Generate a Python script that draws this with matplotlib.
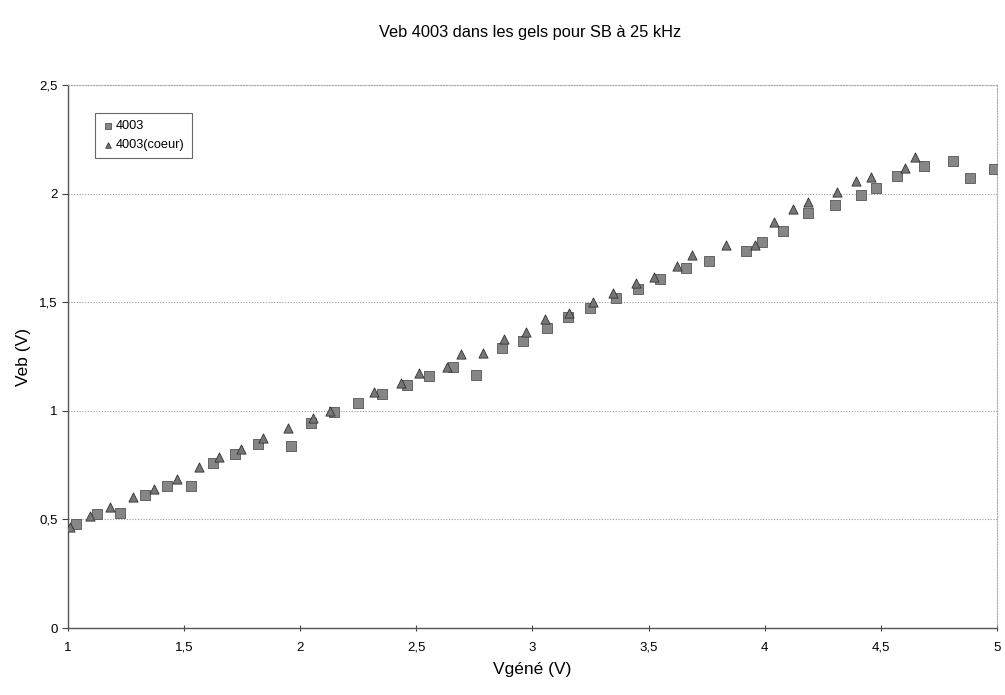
import numpy as np
import matplotlib
matplotlib.use("Agg")
import matplotlib.pyplot as plt
from matplotlib.ticker import FuncFormatter

plt.rcParams['font.family'] = ['Liberation Sans', 'DejaVu Sans']

# 4003 (squares)
x_sq = [1.034, 1.126, 1.224, 1.332, 1.428, 1.530, 1.623, 1.719, 1.819, 1.960,
        2.045, 2.145, 2.250, 2.351, 2.458, 2.554, 2.659, 2.757, 2.867, 2.959,
        3.061, 3.153, 3.248, 3.360, 3.456, 3.550, 3.661, 3.761, 3.919, 3.987,
        4.077, 4.188, 4.303, 4.414, 4.479, 4.568, 4.687, 4.812, 4.884, 4.988]
y_sq = [0.479, 0.523, 0.528, 0.612, 0.655, 0.654, 0.761, 0.801, 0.846, 0.838,
        0.942, 0.996, 1.034, 1.077, 1.119, 1.162, 1.200, 1.165, 1.288, 1.321,
        1.380, 1.430, 1.472, 1.518, 1.559, 1.608, 1.656, 1.691, 1.737, 1.776,
        1.829, 1.912, 1.947, 1.994, 2.024, 2.083, 2.127, 2.152, 2.070, 2.112]

# 4003(coeur) (triangles)
x_tr = [1.009, 1.095, 1.181, 1.278, 1.370, 1.471, 1.564, 1.652, 1.745, 1.841,
        1.949, 2.054, 2.130, 2.318, 2.432, 2.513, 2.633, 2.692, 2.787, 2.877,
        2.972, 3.055, 3.156, 3.262, 3.348, 3.446, 3.524, 3.623, 3.685, 3.833,
        3.958, 4.040, 4.123, 4.188, 4.310, 4.393, 4.457, 4.604, 4.647]
y_tr = [0.466, 0.516, 0.556, 0.602, 0.639, 0.687, 0.740, 0.789, 0.823, 0.873,
        0.919, 0.965, 1.000, 1.088, 1.127, 1.173, 1.203, 1.262, 1.265, 1.329,
        1.364, 1.421, 1.452, 1.502, 1.541, 1.587, 1.617, 1.668, 1.717, 1.763,
        1.763, 1.868, 1.929, 1.963, 2.009, 2.058, 2.078, 2.117, 2.167]

fig = plt.figure(figsize=(10.05, 6.95), dpi=100)
ax = fig.add_axes([0.0677, 0.0964, 0.9243, 0.7813])

ax.scatter(x_sq, y_sq, marker='s', s=42, color='#868686', edgecolors='#555555',
           linewidths=0.6, label='4003', zorder=3)
ax.scatter(x_tr, y_tr, marker='^', s=44, color='#767676', edgecolors='#333333',
           linewidths=0.6, label='4003(coeur)', zorder=3)

ax.set_xlim(1, 5)
ax.set_ylim(0, 2.5)
ax.set_xticks(np.arange(1, 5.01, 0.5))
ax.set_yticks(np.arange(0, 2.51, 0.5))
fmt = FuncFormatter(lambda v, p: ('%g' % v).replace('.', ','))
ax.xaxis.set_major_formatter(fmt)
ax.yaxis.set_major_formatter(fmt)
ax.tick_params(axis='both', labelsize=9.5, color='#444444', length=4, width=0.8)
ax.tick_params(axis='x', direction='inout', pad=8)

ax.yaxis.grid(True, linestyle=(0, (1, 1.5)), color='#999999', linewidth=0.8)
for s in ['top', 'right']:
    ax.spines[s].set_linestyle((0, (1, 1.5)))
    ax.spines[s].set_color('#aaaaaa')
    ax.spines[s].set_linewidth(0.8)
for s in ['left', 'bottom']:
    ax.spines[s].set_color('#555555')
    ax.spines[s].set_linewidth(1.0)

ax.set_xlabel('Vgéné (V)', fontsize=12.5, labelpad=6)
ax.set_ylabel('Veb (V)', fontsize=12.5, labelpad=6)
fig.suptitle('Veb 4003 dans les gels pour SB à 25 kHz', fontsize=11.8, x=0.527, y=0.964)

leg = ax.legend(loc='upper left', bbox_to_anchor=(0.029, 0.948), borderaxespad=0,
                fancybox=False, edgecolor='#444444', fontsize=9.2, handletextpad=0.1,
                handlelength=1.0, borderpad=0.55, labelspacing=0.55, markerscale=0.6)
leg.get_frame().set_linewidth(0.8)

fig.savefig('out.png', dpi=100)
